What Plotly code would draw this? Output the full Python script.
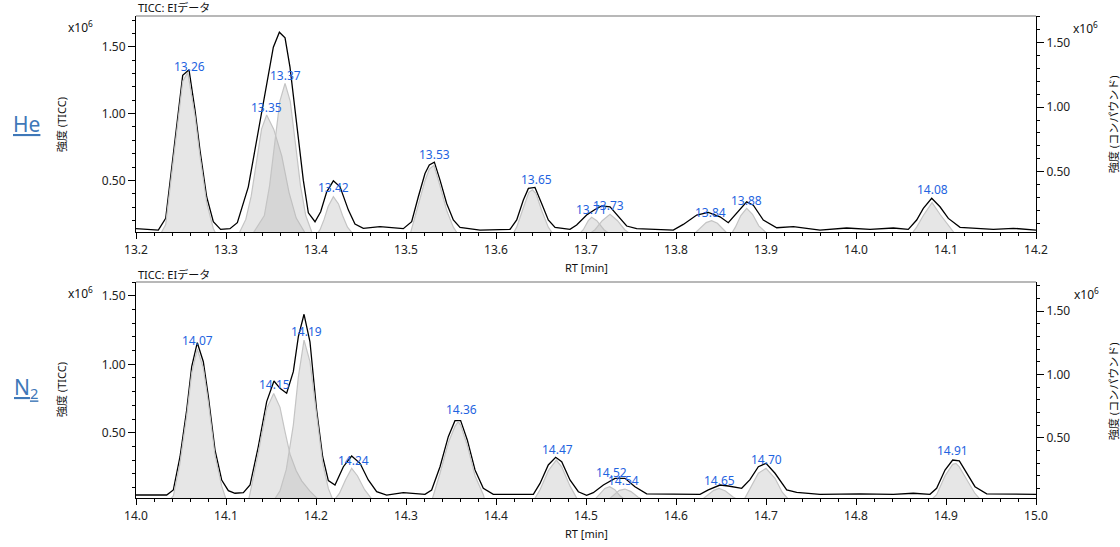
import plotly.graph_objects as go

# ---------------- DATA ----------------
# He panel: TICC chromatogram (RT min, intensity x1e6, left axis)
he_tic_rt = [13.200, 13.2248, 13.2330, 13.2415, 13.2519, 13.2589, 13.2656, 13.2711, 13.2785, 13.2859,
             13.2940, 13.3044, 13.3126, 13.3248, 13.3360, 13.3452, 13.3526, 13.3593, 13.3656, 13.3711,
             13.3785, 13.3859, 13.3915, 13.3989, 13.4052, 13.4119, 13.4193, 13.4267, 13.4360, 13.4433,
             13.4526, 13.4711, 13.4970, 13.5063, 13.5137, 13.5211, 13.5259, 13.5315, 13.5378, 13.5452,
             13.5526, 13.5600, 13.5822, 13.6156, 13.6230, 13.6304, 13.6360, 13.6433, 13.6507, 13.6581,
             13.6656, 13.6822, 13.6896, 13.7007, 13.7100, 13.7174, 13.7267, 13.7359, 13.7452, 13.7563,
             13.7970, 13.8081, 13.8230, 13.8359, 13.8489, 13.8581, 13.8674, 13.8785, 13.8859, 13.8970,
             13.9119, 13.9304, 13.9600, 13.9896, 14.0156, 14.0415, 14.0581, 14.0674, 14.0748, 14.0841,
             14.0933, 14.1026, 14.1156, 14.1526, 14.1748, 14.2000]
he_tic_int = [0.139, 0.129, 0.216, 0.700, 1.286, 1.328, 1.025, 0.726, 0.378, 0.191,
              0.134, 0.139, 0.184, 0.452, 0.876, 1.224, 1.497, 1.609, 1.567, 1.348,
              0.900, 0.502, 0.258, 0.191, 0.266, 0.415, 0.497, 0.452, 0.278, 0.174,
              0.142, 0.154, 0.139, 0.191, 0.378, 0.552, 0.616, 0.637, 0.502, 0.328,
              0.204, 0.149, 0.129, 0.134, 0.204, 0.353, 0.440, 0.448, 0.328, 0.204,
              0.149, 0.134, 0.166, 0.241, 0.283, 0.310, 0.303, 0.228, 0.159, 0.139,
              0.129, 0.171, 0.241, 0.261, 0.228, 0.184, 0.254, 0.340, 0.315, 0.204,
              0.146, 0.154, 0.129, 0.144, 0.134, 0.144, 0.134, 0.204, 0.291, 0.366,
              0.303, 0.216, 0.149, 0.134, 0.142, 0.129]

# He panel: compound peaks (right axis)
he_cmp_rt = [
    [13.226, 13.233, 13.2415, 13.2519, 13.2575, 13.2656, 13.2711, 13.2785, 13.2859, 13.290],
    [13.313, 13.322, 13.328, 13.334, 13.3395, 13.3452, 13.353, 13.362, 13.370, 13.378, 13.390],
    [13.328, 13.3426, 13.3484, 13.3541, 13.3598, 13.3656, 13.3714, 13.3771, 13.3828, 13.3886, 13.397],
    [13.399, 13.4045, 13.409, 13.4135, 13.4193, 13.425, 13.4295, 13.435, 13.443],
    [13.504, 13.5063, 13.5137, 13.5211, 13.5259, 13.531, 13.5378, 13.5452, 13.5526, 13.559],
    [13.6174, 13.623, 13.6304, 13.6365, 13.6405, 13.6445, 13.6507, 13.6581, 13.665],
    [13.690, 13.697, 13.7025, 13.7063, 13.712, 13.720, 13.730],
    [13.700, 13.710, 13.718, 13.7267, 13.735, 13.743, 13.7526],
    [13.8174, 13.826, 13.8335, 13.8396, 13.846, 13.853, 13.860],
    [13.860, 13.866, 13.872, 13.8785, 13.885, 13.892, 13.9044],
    [14.060, 14.0674, 14.0748, 14.0845, 14.0933, 14.1026, 14.1119],
]
he_cmp_int = [
    [0.0, 0.09, 0.59, 1.20, 1.27, 0.93, 0.62, 0.26, 0.06, 0.0],
    [0.0, 0.13, 0.31, 0.57, 0.83, 0.94, 0.83, 0.62, 0.34, 0.14, 0.0],
    [0.0, 0.16, 0.39, 0.72, 1.045, 1.185, 1.045, 0.72, 0.39, 0.16, 0.0],
    [0.0, 0.05, 0.13, 0.23, 0.306, 0.25, 0.16, 0.07, 0.0],
    [0.0, 0.06, 0.25, 0.43, 0.52, 0.55, 0.39, 0.20, 0.07, 0.0],
    [0.0, 0.07, 0.22, 0.34, 0.36, 0.33, 0.20, 0.07, 0.0],
    [0.0, 0.05, 0.12, 0.146, 0.12, 0.05, 0.0],
    [0.0, 0.05, 0.12, 0.169, 0.12, 0.05, 0.0],
    [0.0, 0.06, 0.105, 0.12, 0.10, 0.05, 0.0],
    [0.0, 0.07, 0.16, 0.216, 0.17, 0.08, 0.0],
    [0.0, 0.07, 0.16, 0.26, 0.17, 0.08, 0.0],
]
he_label_text = ["13.26", "13.35", "13.37", "13.42", "13.53", "13.65", "13.71", "13.73", "13.84", "13.88", "14.08"]
he_label_rt = [13.2593, 13.3452, 13.3659, 13.4193, 13.5322, 13.6452, 13.7063, 13.7248, 13.8378, 13.8785, 14.0848]
he_label_int = [1.355, 1.049, 1.286, 0.445, 0.694, 0.507, 0.286, 0.316, 0.261, 0.353, 0.433]

# N2 panel: TICC chromatogram
n2_tic_rt = [14.0000, 14.0341, 14.0415, 14.0489, 14.0563, 14.0619, 14.0681, 14.0748, 14.0804, 14.0878,
             14.0952, 14.1026, 14.1100, 14.1193, 14.1267, 14.1359, 14.1452, 14.1533, 14.1600, 14.1674,
             14.1748, 14.1804, 14.1867, 14.1933, 14.2007, 14.2074, 14.2137, 14.2211, 14.2304, 14.2396,
             14.2489, 14.2581, 14.2674, 14.2785, 14.2970, 14.3211, 14.3285, 14.3378, 14.3470, 14.3544,
             14.3607, 14.3681, 14.3767, 14.3859, 14.3970, 14.4415, 14.4489, 14.4581, 14.4663, 14.4730,
             14.4822, 14.4915, 14.5007, 14.5081, 14.5193, 14.5322, 14.5433, 14.5544, 14.5674, 14.6267,
             14.6359, 14.6489, 14.6581, 14.6730, 14.6822, 14.6915, 14.7000, 14.7100, 14.7230, 14.7341,
             14.7600, 14.8044, 14.8415, 14.8637, 14.8822, 14.8896, 14.8989, 14.9074, 14.9148, 14.9230,
             14.9322, 14.9452, 15.0000]
n2_tic_int = [0.044, 0.044, 0.081, 0.324, 0.666, 0.983, 1.158, 1.019, 0.763, 0.373,
              0.154, 0.076, 0.057, 0.061, 0.117, 0.398, 0.727, 0.878, 0.824, 0.788,
              0.946, 1.202, 1.366, 1.165, 0.666, 0.324, 0.149, 0.117, 0.251, 0.329,
              0.276, 0.154, 0.068, 0.044, 0.061, 0.049, 0.081, 0.251, 0.471, 0.588,
              0.588, 0.447, 0.227, 0.093, 0.049, 0.049, 0.129, 0.264, 0.320, 0.288,
              0.154, 0.068, 0.042, 0.061, 0.117, 0.166, 0.166, 0.105, 0.052, 0.049,
              0.081, 0.117, 0.110, 0.093, 0.156, 0.251, 0.276, 0.203, 0.081, 0.064,
              0.049, 0.052, 0.049, 0.057, 0.049, 0.093, 0.227, 0.300, 0.293, 0.203,
              0.105, 0.052, 0.049]

n2_cmp_rt = [
    [14.0359, 14.0415, 14.0489, 14.0563, 14.0619, 14.0681, 14.0748, 14.0804, 14.0878, 14.0952, 14.1007],
    [14.1248, 14.1267, 14.1359, 14.1452, 14.1530, 14.1600, 14.1655, 14.1711, 14.1780, 14.1841, 14.1930, 14.2044],
    [14.1526, 14.1600, 14.1670, 14.1748, 14.1804, 14.1867, 14.1933, 14.2007, 14.2074, 14.2137, 14.2193],
    [14.2193, 14.2260, 14.2330, 14.2396, 14.2460, 14.2540, 14.2637],
    [14.3285, 14.3378, 14.3470, 14.3544, 14.3580, 14.3607, 14.3681, 14.3767, 14.3859, 14.3878],
    [14.4415, 14.4489, 14.4581, 14.4670, 14.4730, 14.4822, 14.4915],
    [14.5081, 14.5150, 14.5210, 14.5263, 14.5320, 14.5380, 14.5452],
    [14.5230, 14.5300, 14.5370, 14.5433, 14.5500, 14.5580, 14.5674],
    [14.6267, 14.6340, 14.6420, 14.6478, 14.6550, 14.6630, 14.6711],
    [14.6748, 14.6822, 14.6915, 14.7000, 14.7100, 14.7180, 14.7267],
    [14.8822, 14.8896, 14.8989, 14.9074, 14.9110, 14.9148, 14.9230, 14.9322, 14.9396],
]
n2_cmp_int = [
    [0.0, 0.04, 0.30, 0.67, 1.01, 1.20, 1.05, 0.78, 0.36, 0.12, 0.0],
    [0.0, 0.06, 0.38, 0.73, 0.85, 0.74, 0.55, 0.37, 0.24, 0.16, 0.08, 0.0],
    [0.0, 0.08, 0.25, 0.60, 0.98, 1.27, 1.10, 0.67, 0.30, 0.10, 0.0],
    [0.0, 0.06, 0.17, 0.258, 0.20, 0.09, 0.0],
    [0.0, 0.22, 0.46, 0.59, 0.626, 0.60, 0.44, 0.20, 0.05, 0.0],
    [0.0, 0.09, 0.24, 0.324, 0.27, 0.12, 0.0],
    [0.0, 0.05, 0.10, 0.113, 0.09, 0.04, 0.0],
    [0.0, 0.04, 0.085, 0.095, 0.075, 0.03, 0.0],
    [0.0, 0.04, 0.085, 0.10, 0.08, 0.035, 0.0],
    [0.0, 0.10, 0.22, 0.258, 0.18, 0.07, 0.0],
    [0.0, 0.05, 0.20, 0.29, 0.298, 0.27, 0.17, 0.06, 0.0],
]
n2_label_text = ["14.07", "14.15", "14.19", "14.24", "14.36", "14.47", "14.52", "14.54", "14.65", "14.70", "14.91"]
n2_label_rt = [14.0681, 14.1544, 14.1889, 14.2415, 14.3619, 14.4685, 14.5285, 14.5415, 14.6478, 14.7007, 14.9074]
n2_label_int = [1.171, 0.854, 1.239, 0.300, 0.666, 0.379, 0.210, 0.149, 0.149, 0.305, 0.366]

# ---------------- FIGURE ----------------
W, H = 1120, 547
FONT = "Noto Sans, Noto Sans CJK JP, sans-serif"
BLUE = "#1f64e0"


def px_x(p):
    return p / W


def px_y(p):
    return 1 - p / H


fig = go.Figure()

panels = [
    dict(tic_x=he_tic_rt, tic_y=he_tic_int, cx=he_cmp_rt, cy=he_cmp_int,
         lt=he_label_text, lx=he_label_rt, ly=he_label_int, xa="x", ya="y", ya2="y2"),
    dict(tic_x=n2_tic_rt, tic_y=n2_tic_int, cx=n2_cmp_rt, cy=n2_cmp_int,
         lt=n2_label_text, lx=n2_label_rt, ly=n2_label_int, xa="x2", ya="y3", ya2="y4"),
]

for p in panels:
    for xs, ys in zip(p["cx"], p["cy"]):
        fig.add_trace(go.Scatter(x=xs, y=ys, mode="lines", fill="toself",
                                 fillcolor="rgba(185,185,185,0.36)",
                                 line=dict(color="#c4c4c4", width=1.2),
                                 xaxis=p["xa"], yaxis=p["ya2"], hoverinfo="skip",
                                 showlegend=False))
    fig.add_trace(go.Scatter(x=p["tic_x"], y=p["tic_y"], mode="lines",
                             line=dict(color="black", width=1.3),
                             xaxis=p["xa"], yaxis=p["ya"], showlegend=False))
    for t, x, y in zip(p["lt"], p["lx"], p["ly"]):
        fig.add_annotation(x=x, y=y, xref=p["xa"], yref=p["ya"], text=t, showarrow=False,
                           font=dict(family=FONT, size=12, color=BLUE),
                           xanchor="center", yanchor="middle")

xdom = [px_x(136), px_x(1036)]
top_dom = [px_y(232.3), px_y(16)]
bot_dom = [px_y(498.3), px_y(282)]

tickfont = dict(family=FONT, size=12, color="#222222")


def xaxis_cfg(rng, anchor):
    return dict(domain=xdom, range=rng, anchor=anchor, showgrid=False, zeroline=False,
                showline=True, linecolor="black", linewidth=1, ticks="outside",
                ticklen=6, tickcolor="black", tickmode="linear", tick0=13.0, dtick=0.1,
                tickformat=".1f", tickfont=tickfont, automargin=False,
                minor=dict(dtick=0.02, tick0=13.0, ticks="outside", ticklen=3, tickcolor="black"))


def yaxis_cfg(rng, dom, anchor, side="left", overlay=None):
    d = dict(range=rng, anchor=anchor, side=side, showgrid=False, zeroline=False,
             showline=True, linecolor="black", linewidth=1, ticks="outside", ticklen=7,
             tickcolor="black", tickmode="linear", tick0=0.5, dtick=0.5, tickformat=".2f",
             tickfont=tickfont, automargin=False,
             minor=dict(dtick=0.1, tick0=0.0, ticks="outside", ticklen=3, tickcolor="black"))
    if overlay:
        d["overlaying"] = overlay
    else:
        d["domain"] = dom
    return d


fig.update_layout(
    width=W, height=H,
    margin=dict(l=0, r=0, t=0, b=0, autoexpand=False),
    paper_bgcolor="white", plot_bgcolor="white",
    font=dict(family=FONT, size=12, color="#222222"),
    xaxis=xaxis_cfg([13.2, 14.2], "y"),
    xaxis2=xaxis_cfg([14.0, 15.0], "y3"),
    yaxis=yaxis_cfg([0.112, 1.73], top_dom, "x"),
    yaxis2=yaxis_cfg([0.030, 1.707], top_dom, "x", side="right", overlay="y"),
    yaxis3=yaxis_cfg([0.020, 1.602], bot_dom, "x2"),
    yaxis4=yaxis_cfg([0.022, 1.729], bot_dom, "x2", side="right", overlay="y3"),
)

# gray top frame lines
for ya in ["y", "y3"]:
    fig.add_shape(type="line", xref="x domain" if ya == "y" else "x2 domain",
                  yref=f"{ya} domain", x0=0, x1=1, y0=1, y1=1,
                  line=dict(color="#a0a0a0", width=1.5))

text_ann = [
    ("TICC: EIデータ", 136, 8, "left", 11, 0),
    ("TICC: EIデータ", 136, 274, "left", 11, 0),
    ("x10<sup>6</sup>", 80, 27, "center", 12, 0),
    ("x10<sup>6</sup>", 1085, 28, "center", 12, 0),
    ("x10<sup>6</sup>", 80, 293, "center", 12, 0),
    ("x10<sup>6</sup>", 1086, 294, "center", 12, 0),
    ("RT [min]", 586, 268, "center", 11, 0),
    ("RT [min]", 586, 533, "center", 11, 0),
    ("強度 (TICC)", 61, 125, "center", 11, -90),
    ("強度 (TICC)", 61, 390, "center", 11, -90),
    ("強度 (コンパウンド)", 1113, 125, "center", 11, -90),
    ("強度 (コンパウンド)", 1113, 392, "center", 11, -90),
]
for t, x, y, xa, sz, ang in text_ann:
    fig.add_annotation(x=px_x(x), y=px_y(y), xref="paper", yref="paper", text=t,
                       showarrow=False, xanchor=xa, yanchor="middle", textangle=ang,
                       font=dict(family=FONT, size=sz, color="#111111"))

for t, y in [("<u>He</u>", 124), ("<u>N<sub>2</sub></u>", 388)]:
    fig.add_annotation(x=px_x(26), y=px_y(y), xref="paper", yref="paper", text=t,
                       showarrow=False, xanchor="center", yanchor="middle",
                       font=dict(family=FONT, size=21, color="#3f78b8"))

fig.write_html("out.html", config={"displayModeBar": False},
               post_script="document.body.style.margin='0';document.body.style.overflow='hidden';")
